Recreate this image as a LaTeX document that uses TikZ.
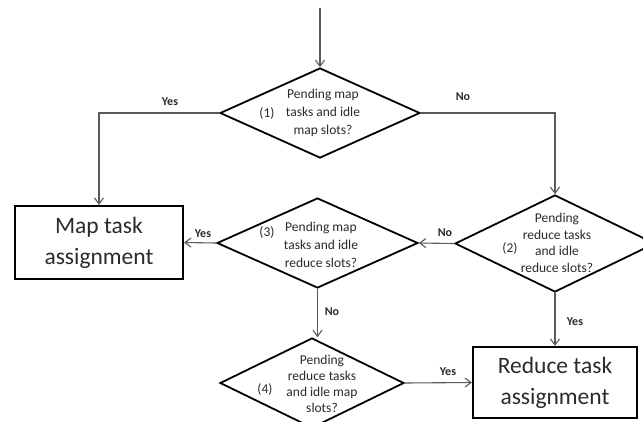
\documentclass[tikz,border=0pt]{standalone}
\usepackage{fontspec}
\setmainfont{Carlito}
\usetikzlibrary{shapes.geometric,arrows.meta}
\definecolor{conn}{HTML}{5A5A5A}
\definecolor{txt}{HTML}{2B2B2B}
\tikzset{
  dia/.style={draw=black, line width=1.8pt, shape=diamond, inner sep=0pt, aspect=2.2},
  dtext/.style={align=center, font=\fontsize{13.5}{18}\selectfont, text=txt, inner sep=0pt},
  dnum/.style={font=\fontsize{13.5}{15}\selectfont, text=txt, inner sep=0pt},
  taskbox/.style={draw=black, line width=2.2pt, align=center, inner sep=0pt,
    font=\fontsize{23.5}{31}\selectfont, text=txt},
  conn/.style={draw=conn, line width=1.1pt, -{Straight Barb[length=6pt,width=9pt]}},
  lab/.style={font=\bfseries\fontsize{12}{13}\selectfont, text=txt, inner sep=0pt}
}
\begin{document}
\begin{tikzpicture}[x=1pt,y=-1pt]
\useasboundingbox (0,0) rectangle (643,421);
\clip (0,0) rectangle (643,421);
\fill[white] (0,0) rectangle (643,421);
% decisions
\node[dia, minimum width=200pt, minimum height=90pt] (d1) at (320,113) {};
\node[dtext] (t1) at (323,113) {Pending map\\tasks and idle\\map slots?};
\node[dnum] (n1) at (267,113) {(1)};

\node[dia, minimum width=200pt, minimum height=97pt] (d2) at (555,243.5) {};
\node[dtext, font=\fontsize{13.5}{16.7}\selectfont] (t2) at (557,243) {Pending\\reduce tasks\\and idle\\reduce slots?};
\node[dnum] (n2) at (510,248) {(2)};

\node[dia, minimum width=201pt, minimum height=90pt] (d3) at (317.5,243) {};
\node[dtext] (t3) at (321,245) {Pending map\\tasks and idle\\reduce slots?};
\node[dnum] (n3) at (267,232) {(3)};

\node[dia, minimum width=184pt, minimum height=90pt] (d4) at (312,383) {};
\node[dtext, font=\fontsize{13.5}{16}\selectfont] (t4) at (322,384) {Pending\\reduce tasks\\and idle map\\slots?};
\node[dnum] (n4) at (265,389) {(4)};

% task boxes
\node[taskbox, minimum width=168pt, minimum height=73pt] (m) at (99,242.5) {Map task\\assignment};
\node[taskbox, minimum width=164pt, minimum height=71pt] (r) at (555,382.5) {Reduce task\\assignment};

% connectors
\coordinate (start) at (320,8);
\draw[conn] (start) -- (d1.north);
\draw[conn] (d1.west) -| (m.north);
\draw[conn] (d1.east) -| (d2.north);
\draw[conn] (d2.west) -- (d3.east);
\draw[conn] (d3.west) -- (m.east);
\draw[conn] (d3.south) -- (d3.south |- d4.north);
\draw[conn] (d4.east) -- (r.west);
\draw[conn] (d2.south) -- (r.north);

% labels
\node[lab] (l1) at (170,102) {Yes};
\node[lab] (l2) at (463,97) {No};
\node[lab] (l3) at (445,233) {No};
\node[lab] (l4) at (203,234) {Yes};
\node[lab] (l5) at (332,312) {No};
\node[lab] (l6) at (575,322) {Yes};
\node[lab] (l7) at (448,372) {Yes};
\end{tikzpicture}
\end{document}
